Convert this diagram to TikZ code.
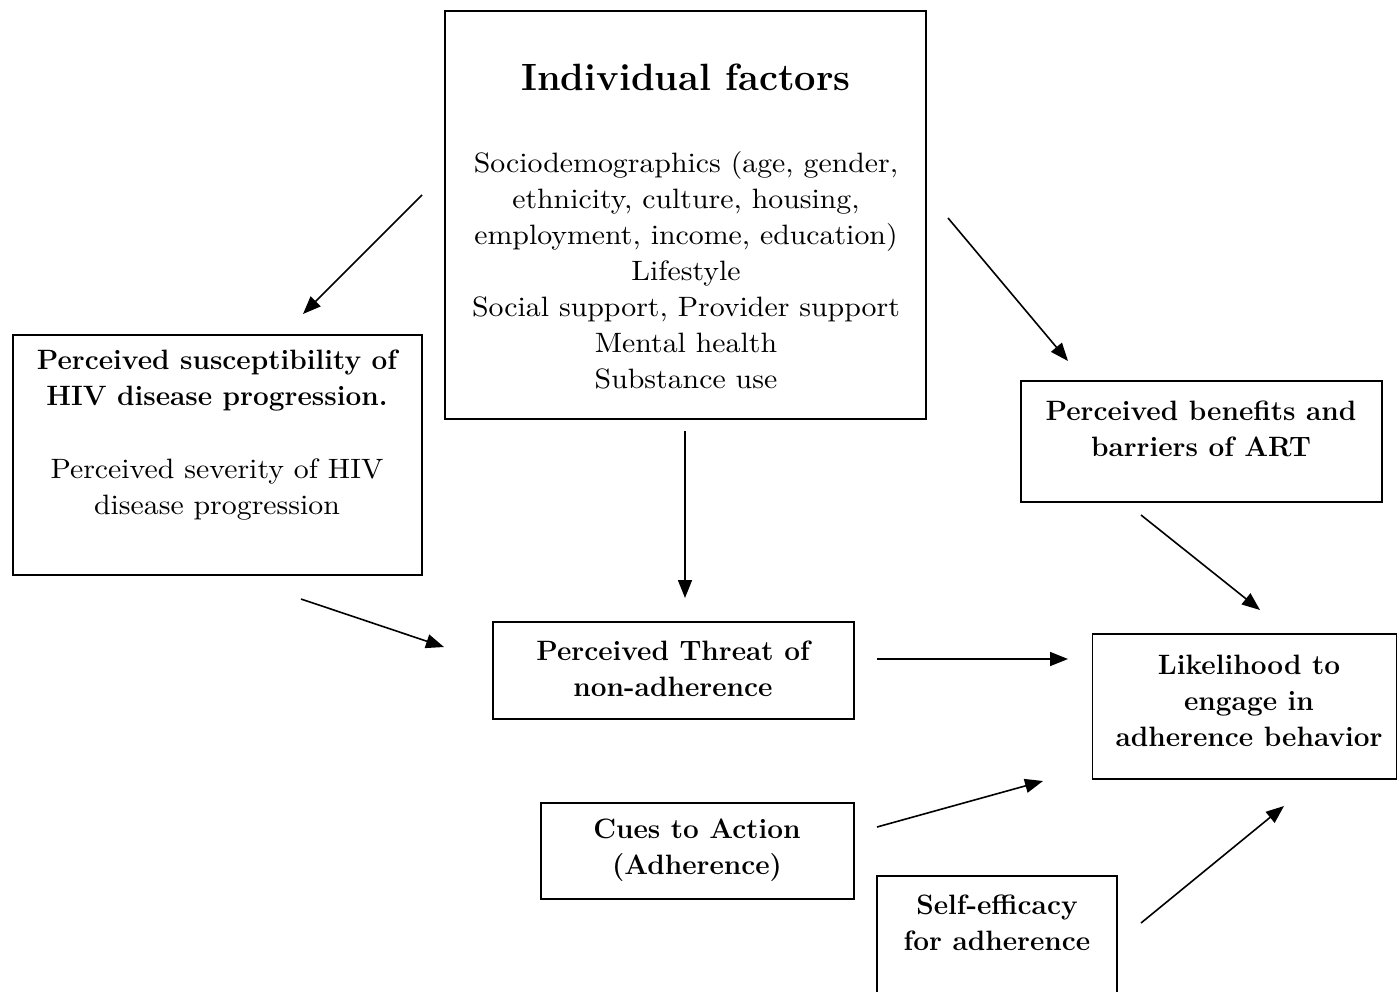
\documentclass[tikz,border=0pt]{standalone}
\usepackage{fontspec}
\newfontfamily\regf{lmroman10-regular.otf}[FakeStretch=1.065]
\usetikzlibrary{arrows.meta}
\begin{document}
\begin{tikzpicture}[x=1pt,y=-1pt,
  box/.style={draw,line width=1.6pt,inner sep=0pt,outer sep=0pt},
  txt/.style={inner sep=0pt,align=center,font=\fontsize{28}{36}\selectfont\regf},
  btxt/.style={inner sep=0pt,align=center,font=\fontsize{28}{36}\selectfont\bfseries},
  arr/.style={line width=1.6pt,-{Triangle[length=18pt,width=14pt]}}]
\useasboundingbox (0,0) rectangle (1397,991);
% boxes
\node[box,minimum width=481pt,minimum height=408pt] (ind) at (685.5,215) {};
\node[box,minimum width=409pt,minimum height=240pt] (sus) at (217.5,455) {};
\node[box,minimum width=361pt,minimum height=121pt] (ben) at (1201.5,441.5) {};
\node[box,minimum width=361pt,minimum height=97pt] (thr) at (673.5,670.5) {};
\node[box,minimum width=304pt,minimum height=145pt] (lik) at (1244.5,706.5) {};
\node[box,minimum width=313pt,minimum height=96pt] (cue) at (697.5,851) {};
\draw[line width=1.6pt] (877,1000) -- (877,876) -- (1117,876) -- (1117,1000);
% texts
\node[btxt,font=\fontsize{38}{44}\selectfont\bfseries] (indt) at (686,77) {Individual factors};
\node[txt] (indb) at (686,270) {Sociodemographics (age, gender,\\ethnicity, culture, housing,\\employment, income, education)\\Lifestyle\\Social support, Provider support\\Mental health\\Substance use};
\node[btxt] (sust) at (217,381) {Perceived susceptibility of\\HIV disease progression.};
\node[txt] (susb) at (217,490) {Perceived severity of HIV\\disease progression};
\node[btxt] (bent) at (1201,429) {Perceived benefits and\\barriers of ART};
\node[btxt] (thrt) at (673,669) {Perceived Threat of\\non-adherence};
\node[btxt] (likt) at (1249,701) {Likelihood to\\engage in\\adherence behavior};
\node[btxt] (cuet) at (697,850) {Cues to Action\\(Adherence)};
\node[btxt] (selt) at (997,923) {Self-efficacy\\for adherence};
% arrow end points
\coordinate (a1s) at (422,195); \coordinate (a1e) at (303,314);
\coordinate (a2s) at (948,218); \coordinate (a2e) at (1068,361);
\coordinate (a3s) at (685,431); \coordinate (a3e) at (685,598);
\coordinate (a4s) at (301,599); \coordinate (a4e) at (444,647);
\coordinate (a5s) at (1141,515); \coordinate (a5e) at (1260,610);
\coordinate (a6s) at (877,659); \coordinate (a6e) at (1068,659);
\coordinate (a7s) at (877,827); \coordinate (a7e) at (1043,781);
\coordinate (a8s) at (1141,923); \coordinate (a8e) at (1284,806);
\draw[arr] (a1s) -- (a1e);
\draw[arr] (a2s) -- (a2e);
\draw[arr] (a3s) -- (a3e);
\draw[arr] (a4s) -- (a4e);
\draw[arr] (a5s) -- (a5e);
\draw[arr] (a6s) -- (a6e);
\draw[arr] (a7s) -- (a7e);
\draw[arr] (a8s) -- (a8e);
\end{tikzpicture}
\end{document}
